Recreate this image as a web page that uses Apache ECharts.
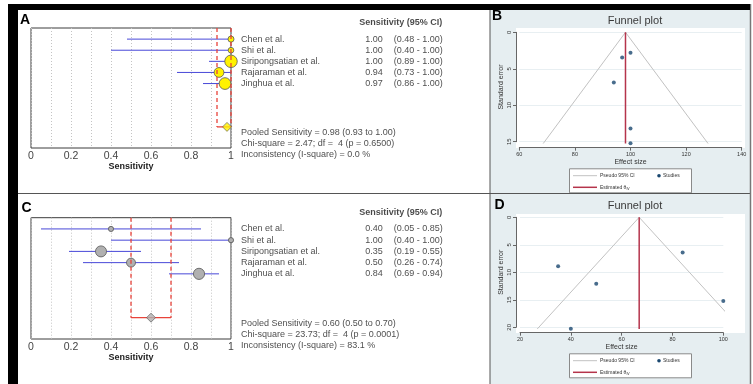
<!DOCTYPE html>
<html><head><meta charset="utf-8">
<script src="https://cdn.jsdelivr.net/npm/echarts@6/dist/echarts.min.js"></script>
<style>html,body{margin:0;padding:0;background:#fff}#c{width:753px;height:384px}</style>
</head><body><div id="c"></div>
<script>
// ---------- DATA ----------
const studies = ['Chen et al.', 'Shi et al.', 'Siripongsatian et al.', 'Rajaraman et al.', 'Jinghua et al.'];
const forestTickLabels = ['0', '0.2', '0.4', '0.6', '0.8', '1'];

// Panel A (forest)
const sensA = [1.00, 1.00, 1.00, 0.94, 0.97];
const loA = [0.48, 0.40, 0.89, 0.73, 0.86];
const hiA = [1.00, 1.00, 1.00, 1.00, 1.00];
const weightA = [8, 7, 34, 21, 30];
const pooledA = [0.98, 0.93, 1.00];
const chiA = ['2.47', '4', '0.6500'];
const i2A = '0.0';

// Panel C (forest)
const sensC = [0.40, 1.00, 0.35, 0.50, 0.84];
const loC = [0.05, 0.40, 0.19, 0.26, 0.69];
const hiC = [0.85, 1.00, 0.55, 0.74, 0.94];
const weightC = [7, 7, 32, 21, 33];
const pooledC = [0.60, 0.50, 0.70];
const chiC = ['23.73', '4', '0.0001'];
const i2C = '83.1';

// Panel B (funnel)
const effB = [100, 100, 100, 94, 97];
const seB = [13.2, 15.2, 2.8, 6.9, 3.45];
const funnelBx = [68.6, 98.2, 127.9];
const funnelBse = [15.25, 0, 15.25];
const thetaB = 98.2;

// Panel D (funnel)
const effD = [40, 100, 35, 50, 84];
const seD = [20.25, 15.2, 8.9, 12.1, 6.4];
const funnelDx = [26.8, 66.9, 107.0];
const funnelDse = [20.3, 0, 20.3];
const thetaD = 66.9;

// ---------- LAYOUT / STYLE ----------
const FONT = '"Liberation Sans", Arial, sans-serif';
const POOLED_ROW = 8.9;
const chart = echarts.init(document.getElementById('c'), null, {renderer: 'canvas', width: 753, height: 384});

function forestGrid(top, height) {
  return {left: 31, top: top, width: 200, height: height, show: true, borderColor: '#3c3c3c', borderWidth: 1,
    backgroundColor: 'transparent', containLabel: false, outerBoundsMode: 'none'};
}
function plainGrid(left, top, width, height) {
  return {left: left, top: top, width: width, height: height, show: false, containLabel: false, outerBoundsMode: 'none'};
}
function forestX(g) {
  return {gridIndex: g, type: 'value', min: 0, max: 1, interval: 0.1,
    axisLine: {show: false, onZero: false}, axisTick: {show: false},
    splitLine: {show: true, lineStyle: {color: '#c4c4c4', type: [1, 2], width: 1}},
    axisLabel: {show: true, margin: 2.5, fontSize: 10.5, color: '#444', fontFamily: FONT,
      formatter: function (v) { const t = Math.round(v * 10); return t % 2 === 0 ? forestTickLabels[t / 2] : ''; }},
    name: 'Sensitivity', nameLocation: 'middle', nameGap: 12,
    nameTextStyle: {fontSize: 9, fontWeight: 'bold', color: '#222', fontFamily: FONT, verticalAlign: 'top'}};
}
function funnelX(g, min, max, offset) {
  return {gridIndex: g, type: 'value', min: min, max: max, interval: 20, offset: offset,
    axisLine: {show: true, onZero: false, lineStyle: {color: '#666', width: 1}},
    axisTick: {show: true, length: 3, lineStyle: {color: '#666'}},
    axisLabel: {fontSize: 5.5, margin: 3.5, color: '#333', fontFamily: FONT},
    splitLine: {show: false},
    name: 'Effect size', nameLocation: 'middle', nameGap: 10.5,
    nameTextStyle: {fontSize: 7, color: '#333', fontFamily: FONT, verticalAlign: 'top'}};
}
function funnelY(g, max, offset) {
  return {gridIndex: g, type: 'value', inverse: true, min: 0, max: max, interval: 5, offset: offset,
    axisLine: {show: true, onZero: false, lineStyle: {color: '#666', width: 1}},
    axisTick: {show: true, length: 3, lineStyle: {color: '#666'}},
    axisLabel: {fontSize: 6, margin: 4, rotate: 90, color: '#333', fontFamily: FONT},
    splitLine: {show: true, lineStyle: {color: '#e8eff2', width: 1}},
    name: 'Standard error', nameLocation: 'middle', nameRotate: 90, nameGap: 11,
    nameTextStyle: {fontSize: 7, color: '#333', fontFamily: FONT}};
}

function ciSeries(ax, lo, hi) {
  return {type: 'custom', xAxisIndex: ax, yAxisIndex: ax, z: 2, clip: false, silent: true,
    data: lo.map((l, i) => [l, hi[i], i + 1]), encode: {x: [0, 1], y: 2},
    renderItem: function (p, api) {
      const a = api.coord([api.value(0), api.value(2)]);
      const b = api.coord([api.value(1), api.value(2)]);
      return {type: 'line', shape: {x1: a[0], y1: a[1], x2: b[0], y2: b[1]}, style: {stroke: '#4848d8', lineWidth: 1}};
    }};
}
function pointSeries(ax, sens, weight, k, fill) {
  return {type: 'scatter', xAxisIndex: ax, yAxisIndex: ax, z: 3, clip: false, silent: true,
    data: sens.map((s, i) => [s, i + 1, weight[i]]),
    symbol: 'circle',
    symbolSize: function (v) { return k * Math.sqrt(v[2]); },
    itemStyle: {color: fill, borderColor: '#555', borderWidth: 0.8, opacity: 1}};
}
function pooledLines(ax, pooled) {
  return {type: 'custom', xAxisIndex: ax, yAxisIndex: ax, z: 4, clip: false, silent: true,
    data: [[pooled[0], pooled[1], pooled[2], POOLED_ROW]], encode: {x: [1, 2], y: 3},
    renderItem: function (p, api) {
      const lo = api.value(1), hi = api.value(2), r = api.value(3);
      const a = api.coord([lo, 0]), b = api.coord([lo, r]), c = api.coord([hi, r]), d = api.coord([hi, 0]);
      const st = {stroke: '#e8433a', lineWidth: 1.3, lineDash: [4, 3]};
      return {type: 'group', children: [
        {type: 'line', shape: {x1: a[0], y1: a[1], x2: b[0], y2: b[1]}, style: st},
        {type: 'line', shape: {x1: d[0], y1: d[1], x2: c[0], y2: c[1]}, style: st},
        {type: 'line', shape: {x1: b[0], y1: b[1], x2: c[0], y2: c[1]}, style: {stroke: '#e8433a', lineWidth: 1.3}}
      ]};
    }};
}
function diamondSeries(ax, pooled, fill) {
  return {type: 'scatter', xAxisIndex: ax, yAxisIndex: ax, z: 5, clip: false, silent: true,
    data: [[pooled[0], POOLED_ROW]], symbol: 'diamond', symbolSize: [9, 9],
    itemStyle: {color: fill, borderColor: '#555', borderWidth: 0.8}};
}

// text table columns (in text-grid units, px from the plot's right edge)
const COL = {name: 9.5, value: 152.3, ci: 162.3, header: 211.7};
function textSeries(ax, sens, lo, hi, pooled, chi, i2) {
  const items = [];
  items.push({x: COL.header, y: -0.45, text: 'Sensitivity (95% CI)', align: 'right', bold: true});
  studies.forEach((s, i) => {
    items.push({x: COL.name, y: i + 1, text: s, align: 'left'});
    items.push({x: COL.value, y: i + 1, text: sens[i].toFixed(2), align: 'right'});
    items.push({x: COL.ci, y: i + 1, text: '(' + lo[i].toFixed(2) + ' - ' + hi[i].toFixed(2) + ')', align: 'left'});
  });
  const stats = [
    'Pooled Sensitivity = ' + pooled[0].toFixed(2) + ' (' + pooled[1].toFixed(2) + ' to ' + pooled[2].toFixed(2) + ')',
    'Chi-square = ' + chi[0] + '; df =  ' + chi[1] + ' (p = ' + chi[2] + ')',
    'Inconsistency (I-square) = ' + i2 + ' %'
  ];
  stats.forEach((t, j) => items.push({x: COL.name, y: POOLED_ROW + 0.5 + j, text: t, align: 'left'}));
  return {type: 'scatter', xAxisIndex: ax, yAxisIndex: ax, z: 6, clip: false, silent: true,
    symbolSize: 1, itemStyle: {color: 'rgba(0,0,0,0)'},
    data: items.map(it => ({value: [it.x, it.y], label: {show: true, formatter: it.text,
      position: it.align === 'right' ? 'left' : 'right', distance: 0,
      fontSize: 9, fontFamily: FONT, color: '#1a1a1a', fontWeight: it.bold ? 'bold' : 'normal'}}))};
}

function funnelSeries(ax, fx, fse, theta, eff, se) {
  return [
    {type: 'line', xAxisIndex: ax, yAxisIndex: ax, z: 3, clip: false, silent: true, symbol: 'none',
      data: fx.map((x, i) => [x, fse[i]]), lineStyle: {color: '#c2c2c2', width: 1}},
    {type: 'line', xAxisIndex: ax, yAxisIndex: ax, z: 4, clip: false, silent: true, symbol: 'none',
      data: [[theta, 0], [theta, fse[0]]], lineStyle: {color: '#b5344b', width: 1.5}},
    {type: 'scatter', xAxisIndex: ax, yAxisIndex: ax, z: 5, clip: false, silent: true,
      data: eff.map((e, i) => [e, se[i]]), symbolSize: 4, itemStyle: {color: '#1a476f'}}
  ];
}

function legendEls(T) {
  const f = {fontSize: 5, fontFamily: FONT, fill: '#333', verticalAlign: 'middle', align: 'left'};
  return [
    {type: 'rect', z: 50, shape: {x: 569.5, y: T + 0.5, width: 122, height: 24}, style: {fill: '#fff', stroke: '#8a8a8a', lineWidth: 1}},
    {type: 'line', z: 51, shape: {x1: 573, y1: T + 7.4, x2: 597, y2: T + 7.4}, style: {stroke: '#c2c2c2', lineWidth: 1}},
    {type: 'text', z: 51, style: Object.assign({x: 600, y: T + 7.4, text: 'Pseudo 95% CI'}, f)},
    {type: 'circle', z: 51, shape: {cx: 659, cy: T + 7.4, r: 1.8}, style: {fill: '#1a476f'}},
    {type: 'text', z: 51, style: Object.assign({x: 663, y: T + 7.4, text: 'Studies'}, f)},
    {type: 'line', z: 51, shape: {x1: 573, y1: T + 19, x2: 597, y2: T + 19}, style: {stroke: '#b5344b', lineWidth: 1.5}},
    {type: 'text', z: 51, style: Object.assign({x: 600, y: T + 19, text: 'Estimated θ{s|IV}',
      rich: {s: {fontSize: 3.5, fontFamily: FONT, fill: '#333', padding: [3, 0, 0, 0]}}}, f)}
  ];
}

const letterStyle = {fontSize: 14, fontWeight: 'bold', fontFamily: FONT, fill: '#000', verticalAlign: 'middle', align: 'left'};
const titleStyle = {fontSize: 11, fontFamily: FONT, fill: '#3a3a3a', verticalAlign: 'middle', align: 'center'};

const graphic = [
  {type: 'rect', z: -20, shape: {x: 0, y: 0, width: 753, height: 384}, style: {fill: '#fff'}},
  {type: 'rect', z: -15, shape: {x: 490, y: 10, width: 260, height: 183.5}, style: {fill: '#e6eef1'}},
  {type: 'rect', z: -15, shape: {x: 490, y: 193.5, width: 260, height: 190.5}, style: {fill: '#e6eef1'}},
  {type: 'rect', z: -12, shape: {x: 516, y: 28, width: 229, height: 120}, style: {fill: '#fff'}},
  {type: 'rect', z: -12, shape: {x: 516, y: 214, width: 229, height: 119}, style: {fill: '#fff'}},
  {type: 'line', z: 100, shape: {x1: 18, y1: 193.5, x2: 750, y2: 193.5}, style: {stroke: '#555', lineWidth: 1}},
  {type: 'line', z: 100, shape: {x1: 490, y1: 10, x2: 490, y2: 384}, style: {stroke: '#555', lineWidth: 1}},
  {type: 'line', z: 100, shape: {x1: 750.5, y1: 4, x2: 750.5, y2: 384}, style: {stroke: '#777', lineWidth: 1.5}},
  {type: 'rect', z: 100, shape: {x: 8, y: 4, width: 10, height: 380}, style: {fill: '#000'}},
  {type: 'rect', z: 100, shape: {x: 8, y: 4, width: 742, height: 6}, style: {fill: '#000'}},
  {type: 'text', z: 100, style: Object.assign({x: 20, y: 20.5, text: 'A'}, letterStyle)},
  {type: 'text', z: 100, style: Object.assign({x: 492, y: 16, text: 'B'}, letterStyle)},
  {type: 'text', z: 100, style: Object.assign({x: 21.5, y: 208.5, text: 'C'}, letterStyle)},
  {type: 'text', z: 100, style: Object.assign({x: 494.5, y: 205.5, text: 'D'}, letterStyle)},
  {type: 'text', z: 100, style: Object.assign({x: 635, y: 20.7, text: 'Funnel plot'}, titleStyle)},
  {type: 'text', z: 100, style: Object.assign({x: 635, y: 205.7, text: 'Funnel plot'}, titleStyle)}
].concat(legendEls(168.3), legendEls(353.3));

const rowA = 120 / 10.8, rowC = 121.3 / 10.8;
const option = {
  animation: false,
  backgroundColor: '#fff',
  grid: [
    forestGrid(28, 120),
    plainGrid(231, 28 - rowA, 230, 13 * rowA),
    forestGrid(217.7, 121.3),
    plainGrid(231, 217.7 - rowC, 230, 13 * rowC),
    plainGrid(519.3, 32.3, 222.4, 109.4),
    plainGrid(520, 217.3, 203.3, 110)
  ],
  xAxis: [
    forestX(0),
    {gridIndex: 1, type: 'value', min: 0, max: 230, show: false},
    forestX(2),
    {gridIndex: 3, type: 'value', min: 0, max: 230, show: false},
    funnelX(4, 60, 140, 6),
    funnelX(5, 20, 100, 5.4)
  ],
  yAxis: [
    {gridIndex: 0, type: 'value', inverse: true, min: 0, max: 10.8, show: false},
    {gridIndex: 1, type: 'value', inverse: true, min: -1, max: 12, show: false},
    {gridIndex: 2, type: 'value', inverse: true, min: 0, max: 10.8, show: false},
    {gridIndex: 3, type: 'value', inverse: true, min: -1, max: 12, show: false},
    funnelY(4, 15, 3.3),
    funnelY(5, 20, 4)
  ],
  series: [
    ciSeries(0, loA, hiA),
    pointSeries(0, sensA, weightA, 2.14, '#fff200'),
    pooledLines(0, pooledA),
    diamondSeries(0, pooledA, '#fff200'),
    textSeries(1, sensA, loA, hiA, pooledA, chiA, i2A),
    ciSeries(2, loC, hiC),
    pointSeries(2, sensC, weightC, 1.95, '#b0b0b0'),
    pooledLines(2, pooledC),
    diamondSeries(2, pooledC, '#b0b0b0'),
    textSeries(3, sensC, loC, hiC, pooledC, chiC, i2C)
  ].concat(funnelSeries(4, funnelBx, funnelBse, thetaB, effB, seB), funnelSeries(5, funnelDx, funnelDse, thetaD, effD, seD)),
  graphic: graphic
};
chart.setOption(option);
</script>
</body></html>
